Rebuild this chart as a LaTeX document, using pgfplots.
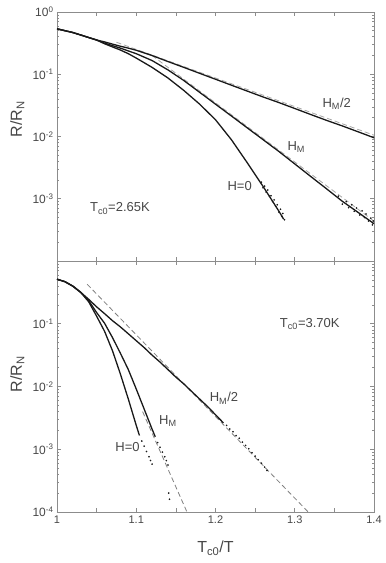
\documentclass[border=0pt]{standalone}
\usepackage{fontspec}
\setmainfont{Liberation Sans}
\usepackage{pgfplots}
\pgfplotsset{compat=1.18}

\definecolor{framegray}{gray}{0.55}
\definecolor{txtgray}{gray}{0.28}
\definecolor{curvecol}{gray}{0.1}
\definecolor{fitgray}{gray}{0.5}

\pgfplotsset{
  mypanel/.style={
    scale only axis, width=317pt,
    xmin=1, xmax=1.4, ymin=1e-4, ymax=1,
    axis line style={framegray, line width=0.7pt},
    tick style={framegray, line width=0.6pt},
    tick align=inside,
    major tick length=4pt, minor tick length=2pt,
    xtick={1,1.05,1.1,1.15,1.2,1.25,1.3,1.35,1.4},
    ytick={1e-4,1e-3,1e-2,1e-1,1},
    xticklabel style={font=\fontsize{11}{12}\selectfont, text=txtgray},
    yticklabel style={font=\fontsize{12}{13}\selectfont, text=txtgray},
    ylabel={R/R\textsubscript{N}},
    ylabel style={font=\fontsize{16}{18}\selectfont, text=txtgray, anchor=center},
  },
  mydat/.style={curvecol, line width=1.3pt, line join=round},
  mypts/.style={curvecol, only marks, mark=*, mark size=0.6pt},
  myfit/.style={fitgray, line width=0.8pt, dash pattern=on 5pt off 3pt},
}
\tikzset{mylab/.style={font=\fontsize{13}{14}\selectfont, text=txtgray}}

\begin{document}
\begin{tikzpicture}

% upper panel, Tc0 = 2.65 K
\begin{axis}[ymode=log, mypanel, name=top, at={(57pt,-12pt)}, anchor=north west, height=249pt,
    xticklabels={},
    yticklabels={,10\textsuperscript{-3},10\textsuperscript{-2},10\textsuperscript{-1},10\textsuperscript{0}},
    ylabel style={at={(axis description cs:-0.125,0.57)}},
]
\addplot[myfit, fitgray!70] coordinates {(1.075,0.327) (1.40,0.0105)};
\addplot[myfit, fitgray!70] coordinates {(1.12,0.2) (1.40,0.000437)};
% H_M/2
\addplot[mydat] coordinates {
 (1.00,0.537) (1.01,0.501) (1.02,0.468) (1.03,0.427) (1.04,0.389) (1.05,0.355)
 (1.06,0.331) (1.07,0.305) (1.08,0.282) (1.09,0.263) (1.10,0.243) (1.12,0.200)
 (1.14,0.160) (1.16,0.129) (1.18,0.1035) (1.20,0.0832) (1.22,0.0668) (1.24,0.0537)
 (1.26,0.0432) (1.28,0.0351) (1.30,0.0282) (1.32,0.0226) (1.34,0.0182) (1.36,0.0148)
 (1.38,0.0119) (1.40,0.00955)};
% H_M
\addplot[mydat] coordinates {
 (1.00,0.537) (1.01,0.501) (1.02,0.468) (1.03,0.427) (1.04,0.389) (1.05,0.355)
 (1.06,0.316) (1.07,0.288) (1.08,0.263) (1.09,0.237) (1.10,0.214) (1.12,0.166)
 (1.14,0.1175) (1.16,0.0794) (1.18,0.0513) (1.20,0.0331) (1.22,0.0214) (1.24,0.0138)
 (1.26,0.00891) (1.28,0.00575) (1.30,0.00363) (1.32,0.00229) (1.34,0.00145)
 (1.36,0.000912) (1.38,0.000603) (1.40,0.000398)};
\addplot[mypts] coordinates {
 (1.355,0.00110) (1.36,0.00082) (1.365,0.00090) (1.368,0.00072) (1.372,0.00080)
 (1.375,0.00063) (1.378,0.00071) (1.382,0.00055) (1.385,0.00064) (1.388,0.00050)
 (1.39,0.00057) (1.393,0.00044) (1.396,0.00049) (1.398,0.00038) (1.399,0.00044)};
% H=0
\addplot[mydat] coordinates {
 (1.00,0.537) (1.01,0.501) (1.02,0.468) (1.03,0.427) (1.04,0.389) (1.05,0.355)
 (1.06,0.309) (1.07,0.275) (1.08,0.245) (1.09,0.214) (1.10,0.182) (1.12,0.129)
 (1.14,0.0871) (1.16,0.0550) (1.18,0.0331) (1.20,0.0186) (1.22,0.00891)
 (1.24,0.0038) (1.26,0.00158) (1.27,0.001) (1.28,0.000631) (1.286,0.00047)};
\addplot[mypts] coordinates {
 (1.258,0.00185) (1.26,0.00150) (1.262,0.00160) (1.264,0.00128) (1.266,0.00138)
 (1.268,0.00110) (1.27,0.00112) (1.272,0.00090) (1.274,0.00096) (1.276,0.00076)
 (1.278,0.00080) (1.28,0.00061) (1.282,0.00068) (1.284,0.00052) (1.285,0.00058)
 (1.287,0.00046)};
\node[mylab] at (axis cs:1.353,0.034) {H\textsubscript{M}/2};
\node[mylab] at (axis cs:1.302,0.0068) {H\textsubscript{M}};
\node[mylab] at (axis cs:1.2305,0.00158) {H=0};
\node[mylab] at (axis cs:1.0795,0.0007) {T\textsubscript{c0}=2.65K};
\end{axis}

% lower panel, Tc0 = 3.70 K
\begin{axis}[ymode=log, mypanel, name=bot, at={(57pt,-261pt)}, anchor=north west, height=251pt,
    xticklabels={1,,1.1,,1.2,,1.3,,1.4},
    yticklabels={10\textsuperscript{-4},10\textsuperscript{-3},10\textsuperscript{-2},10\textsuperscript{-1},},
    ylabel style={at={(axis description cs:-0.125,0.55)}},
    xlabel={T\textsubscript{c0}/T},
    xlabel style={font=\fontsize{16}{18}\selectfont, text=txtgray, inner sep=0pt,
      at={(axis description cs:0.5,-0.115)}, anchor=north},
]
\addplot[myfit] coordinates {(1.038,0.427) (1.317,0.0001)};
\addplot[myfit] coordinates {(1.108,0.00398) (1.164,0.0001)};
% H_M/2
\addplot[mydat] coordinates {
 (1.00,0.513) (1.01,0.468) (1.02,0.398) (1.03,0.316) (1.04,0.245) (1.05,0.186)
 (1.06,0.145) (1.07,0.112) (1.08,0.0891) (1.09,0.0692) (1.10,0.0537) (1.11,0.0417)
 (1.12,0.0316) (1.13,0.0245) (1.14,0.0186) (1.15,0.0141) (1.16,0.011)
 (1.17,0.00832) (1.18,0.00631) (1.19,0.00479) (1.20,0.00355) (1.21,0.00263)};
\addplot[mypts] coordinates {
 (1.214,0.0024) (1.218,0.0021) (1.222,0.0019) (1.226,0.00165) (1.23,0.0015)
 (1.234,0.0013) (1.238,0.00115) (1.242,0.00102) (1.246,0.00088) (1.25,0.00078)
 (1.254,0.00068) (1.258,0.0006) (1.262,0.00052) (1.265,0.00046)};
% H_M
\addplot[mydat] coordinates {
 (1.00,0.513) (1.01,0.468) (1.02,0.398) (1.03,0.316) (1.04,0.234) (1.05,0.151)
 (1.06,0.102) (1.07,0.0603) (1.08,0.0339) (1.09,0.0186) (1.10,0.00912)
 (1.11,0.00437) (1.12,0.00209) (1.124,0.00158)};
\addplot[mypts] coordinates {
 (1.127,0.00128) (1.13,0.00108) (1.133,0.0009) (1.136,0.00076) (1.138,0.00066)
 (1.14,0.00056) (1.141,0.0002) (1.142,0.00016)};
% H=0
\addplot[mydat] coordinates {
 (1.00,0.513) (1.01,0.468) (1.02,0.398) (1.03,0.316) (1.04,0.224) (1.05,0.132)
 (1.06,0.0759) (1.07,0.0372) (1.08,0.0158) (1.09,0.00631) (1.10,0.0024)
 (1.104,0.00166)};
\addplot[mypts] coordinates {
 (1.107,0.00135) (1.11,0.00112) (1.113,0.00092) (1.116,0.00076) (1.118,0.00066)
 (1.12,0.00058)};
\node[mylab] at (axis cs:1.319,0.1) {T\textsubscript{c0}=3.70K};
\node[mylab] at (axis cs:1.2107,0.0065) {H\textsubscript{M}/2};
\node[mylab] at (axis cs:1.140,0.0028) {H\textsubscript{M}};
\node[mylab] at (axis cs:1.089,0.00107) {H=0};
\end{axis}

\pgfresetboundingbox
\path[use as bounding box] (0,0) rectangle (386pt,-563pt);
\end{tikzpicture}
\end{document}
